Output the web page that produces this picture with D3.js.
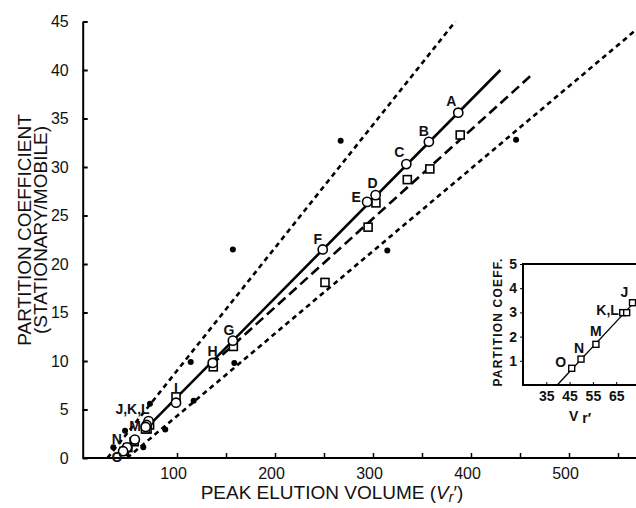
<!DOCTYPE html>
<html>
<head>
<meta charset="utf-8">
<script src="https://cdn.jsdelivr.net/npm/d3@7"></script>
<style>
  body { margin: 0; background: #fff; }
  svg { display: block; }
  .tick text { font-family: "Liberation Sans", Arial, sans-serif; }
</style>
</head>
<body>
<div id="chart"></div>
<script>
// compounds A..O, circles (solid line) and squares (long-dashed line)
const compounds = ["A", "B", "C", "D", "E", "F", "G", "H", "I", "J", "K", "L", "M", "N", "O"];
const circleVol = [387, 357, 334, 302.7, 294, 248.7, 157, 136.4, 99, 71, 69, 68, 57, 49, 45];
const circleK = [35.6, 32.6, 30.3, 27.1, 26.4, 21.5, 12.1, 9.8, 5.7, 3.8, 3.4, 3.2, 1.9, 1.1, 0.7];
const squareVol = [389, 358, 335, 303, 295, 251, 157.5, 137, 99, 72, 69.5, 67.8, 56.3, 49.9, 45.9];
const squareK = [33.3, 29.8, 28.7, 26.3, 23.8, 18.1, 11.5, 9.4, 6.3, 3.4, 2.99, 2.99, 1.68, 1.07, 0.69];

// filled dots (dotted envelope lines)
const dotVol = [267, 446, 314.6, 157, 114, 158.5, 117, 72.4, 47, 88, 35, 65.6];
const dotK = [32.7, 32.8, 21.4, 21.5, 9.9, 9.8, 5.9, 5.6, 2.8, 2.95, 1.1, 1.1];

// fitted lines: [vol0, k0, vol1, k1]
const solidLine = [67, 2.9, 430, 40.0];
const dashedLine = [135, 9.6, 462, 39.5];
const upperDotted = [29, 0, 384, 45];
const lowerDotted = [49, 0, 575, 44.7];

const xTickValues = [50, 100, 150, 200, 250, 300, 350, 400, 450, 500, 550];
const yTickValues = [0, 5, 10, 15, 20, 25, 30, 35, 40, 45];

// inset
const insetLabels = ["J", "K,L", "M", "N", "O"];
const insetVol = [72, 68.6, 56.3, 49.9, 45.9];
const insetK = [3.4, 2.99, 1.68, 1.07, 0.69];
const insetPairVol = [67.8, 69.5];
const insetPairK = [2.99, 2.99];
const insetLine = [39.7, 0, 74, 3.55];
const insetXTicks = [35, 45, 55, 65];
const insetYTicks = [1, 2, 3, 4, 5];

const width = 636, height = 508;
const svg = d3.select("#chart").append("svg").attr("width", width).attr("height", height);

const x = d3.scaleLinear().domain([0, 500]).range([79, 569]);
const y = d3.scaleLinear().domain([0, 45]).range([458, 21.5]);
const axisX = 82.7;

// y axis
const yAxis = svg.append("g").attr("transform", `translate(${axisX},0)`)
  .call(d3.axisLeft(y).tickValues(yTickValues).tickSizeInner(-5).tickSizeOuter(0).tickPadding(14));
yAxis.selectAll("text").attr("font-size", 16).attr("fill", "#111");
yAxis.selectAll("line, path").attr("stroke", "#000").attr("stroke-width", 2);

// x axis
const xAxis = svg.append("g").attr("transform", "translate(0,458)")
  .call(d3.axisBottom(x).tickValues(xTickValues).tickSizeInner(-5).tickSizeOuter(0).tickPadding(10)
    .tickFormat(d => d % 100 === 0 ? d : ""));
xAxis.select(".domain").remove();
xAxis.selectAll("text").attr("font-size", 16).attr("fill", "#111").attr("dx", -4);
xAxis.selectAll("line").attr("stroke", "#000").attr("stroke-width", 1.5);
svg.append("line").attr("x1", axisX).attr("x2", width).attr("y1", 458).attr("y2", 458)
  .attr("stroke", "#000").attr("stroke-width", 2);

// axis titles
const titleFont = "'Liberation Sans', Arial, sans-serif";
svg.append("text").attr("transform", "translate(31,230) rotate(-90)")
  .attr("text-anchor", "middle").attr("font-family", titleFont).attr("font-size", 19)
  .attr("fill", "#111").text("PARTITION COEFFICIENT");
svg.append("text").attr("transform", "translate(47,230) rotate(-90)")
  .attr("text-anchor", "middle").attr("font-family", titleFont).attr("font-size", 19)
  .attr("fill", "#111").text("(STATIONARY/MOBILE)");

const xTitle = svg.append("text").attr("x", 332).attr("y", 499).attr("text-anchor", "middle")
  .attr("font-family", titleFont).attr("font-size", 19).attr("fill", "#111");
xTitle.append("tspan").text("PEAK ELUTION VOLUME (");
xTitle.append("tspan").attr("font-style", "italic").text("V");
xTitle.append("tspan").attr("font-style", "italic").attr("font-size", 14).attr("dy", 3).text("r");
xTitle.append("tspan").attr("dy", -3).text("′)");

// lines
function drawLine(seg, dash) {
  svg.append("line")
    .attr("x1", x(seg[0])).attr("y1", y(seg[1]))
    .attr("x2", x(seg[2])).attr("y2", y(seg[3]))
    .attr("stroke", "#000").attr("stroke-width", 2.6)
    .attr("stroke-dasharray", dash);
}
drawLine(upperDotted, "5,4");
drawLine(lowerDotted, "5,4");
drawLine(dashedLine, "10,5");
drawLine(solidLine, null);

// dots
svg.selectAll(".dot").data(dotVol).enter().append("circle").attr("class", "dot")
  .attr("cx", d => x(d)).attr("cy", (d, i) => y(dotK[i])).attr("r", 3).attr("fill", "#000");

// squares
const sq = 8;
svg.selectAll(".sq").data(squareVol).enter().append("rect").attr("class", "sq")
  .attr("x", d => x(d) - sq / 2).attr("y", (d, i) => y(squareK[i]) - sq / 2)
  .attr("width", sq).attr("height", sq)
  .attr("fill", "#fff").attr("stroke", "#000").attr("stroke-width", 1.6);

// circles
svg.selectAll(".circ").data(circleVol).enter().append("circle").attr("class", "circ")
  .attr("cx", d => x(d)).attr("cy", (d, i) => y(circleK[i])).attr("r", 4.6)
  .attr("fill", "#fff").attr("stroke", "#000").attr("stroke-width", 1.6);

// point labels: [text, anchor index, use square?, dx, dy]
const labelFont = "'Liberation Sans Narrow', 'Liberation Sans', Arial, sans-serif";
const labelPlace = [
  ["A", 0, false, -7, -12], ["B", 1, false, -5, -11], ["C", 2, false, -7, -12],
  ["D", 3, false, -3, -12], ["E", 4, false, -11, -5], ["F", 5, false, -5, -10],
  ["G", 6, false, -4, -11], ["H", 7, false, 0, -12], ["I", 8, false, 0, -15],
  ["J,K,L", 9, true, -17, -16], ["M", 12, true, 1, -16], ["N", 13, true, -11, -9],
  ["O", 14, true, -7, 6]
];
svg.selectAll(".plabel").data(labelPlace).enter().append("text").attr("class", "plabel")
  .attr("x", d => x(d[2] ? squareVol[d[1]] : circleVol[d[1]]) + d[3])
  .attr("y", d => y(d[2] ? squareK[d[1]] : circleK[d[1]]) + d[4])
  .attr("dy", "0.36em").attr("text-anchor", "middle")
  .attr("font-family", labelFont).attr("font-weight", "bold").attr("font-size", 14)
  .attr("fill", "#111").text(d => d[0]);

// inset
const ix = d3.scaleLinear().domain([25, 75]).range([523, 639.5]);
const iy = d3.scaleLinear().domain([0, 5]).range([385, 264]);
const inset = svg.append("g");
inset.append("rect").attr("x", 523).attr("y", 264).attr("width", width - 523).attr("height", 121)
  .attr("fill", "#fff");
inset.append("path").attr("d", `M${width},264H523V385H${width}`)
  .attr("fill", "none").attr("stroke", "#000").attr("stroke-width", 2);

const iyAxis = inset.append("g").attr("transform", "translate(523,0)")
  .call(d3.axisLeft(iy).tickValues(insetYTicks).tickFormat(d3.format("d"))
    .tickSizeInner(3).tickSizeOuter(0).tickPadding(3));
iyAxis.select(".domain").remove();
iyAxis.selectAll("text").attr("font-family", labelFont).attr("font-weight", "bold")
  .attr("font-size", 14).attr("fill", "#111");
const ixAxis = inset.append("g").attr("transform", "translate(0,385)")
  .call(d3.axisBottom(ix).tickValues(insetXTicks).tickFormat(d3.format("d"))
    .tickSizeInner(-3).tickSizeOuter(0).tickPadding(6));
ixAxis.select(".domain").remove();
ixAxis.selectAll("text").attr("font-family", labelFont).attr("font-weight", "bold")
  .attr("font-size", 14).attr("fill", "#111");

inset.append("text").attr("transform", "translate(502,322) rotate(-90)")
  .attr("text-anchor", "middle").attr("font-family", labelFont).attr("font-weight", "bold")
  .attr("font-size", 12).attr("letter-spacing", 1.2).attr("fill", "#111").text("PARTITION COEFF.");
const ivt = inset.append("text").attr("x", 580).attr("y", 421).attr("text-anchor", "middle")
  .attr("font-family", labelFont).attr("font-weight", "bold").attr("font-size", 14).attr("fill", "#111");
ivt.append("tspan").text("V ");
ivt.append("tspan").attr("dy", 2).text("r′");

inset.append("line")
  .attr("x1", ix(insetLine[0])).attr("y1", iy(insetLine[1]))
  .attr("x2", ix(insetLine[2])).attr("y2", iy(insetLine[3]))
  .attr("stroke", "#000").attr("stroke-width", 1.3);

const isq = 6;
const allInsetVol = [insetVol[0], ...insetPairVol, ...insetVol.slice(2)];
const allInsetK = [insetK[0], ...insetPairK, ...insetK.slice(2)];
inset.selectAll(".isq").data(allInsetVol).enter().append("rect").attr("class", "isq")
  .attr("x", d => ix(d) - isq / 2).attr("y", (d, i) => iy(allInsetK[i]) - isq / 2)
  .attr("width", isq).attr("height", isq)
  .attr("fill", "#fff").attr("stroke", "#000").attr("stroke-width", 1.4);

const insetLabelOffset = { "J": [-8, -11], "K,L": [-17, -3], "M": [0, -13], "N": [-2, -11], "O": [-11, -6] };
inset.selectAll(".ilabel").data(insetLabels).enter().append("text").attr("class", "ilabel")
  .attr("x", (d, i) => ix(insetVol[i]) + insetLabelOffset[d][0])
  .attr("y", (d, i) => iy(insetK[i]) + insetLabelOffset[d][1])
  .attr("dy", "0.36em").attr("text-anchor", "middle")
  .attr("font-family", labelFont).attr("font-weight", "bold").attr("font-size", 14)
  .attr("fill", "#111").text(d => d);
</script>
</body>
</html>
